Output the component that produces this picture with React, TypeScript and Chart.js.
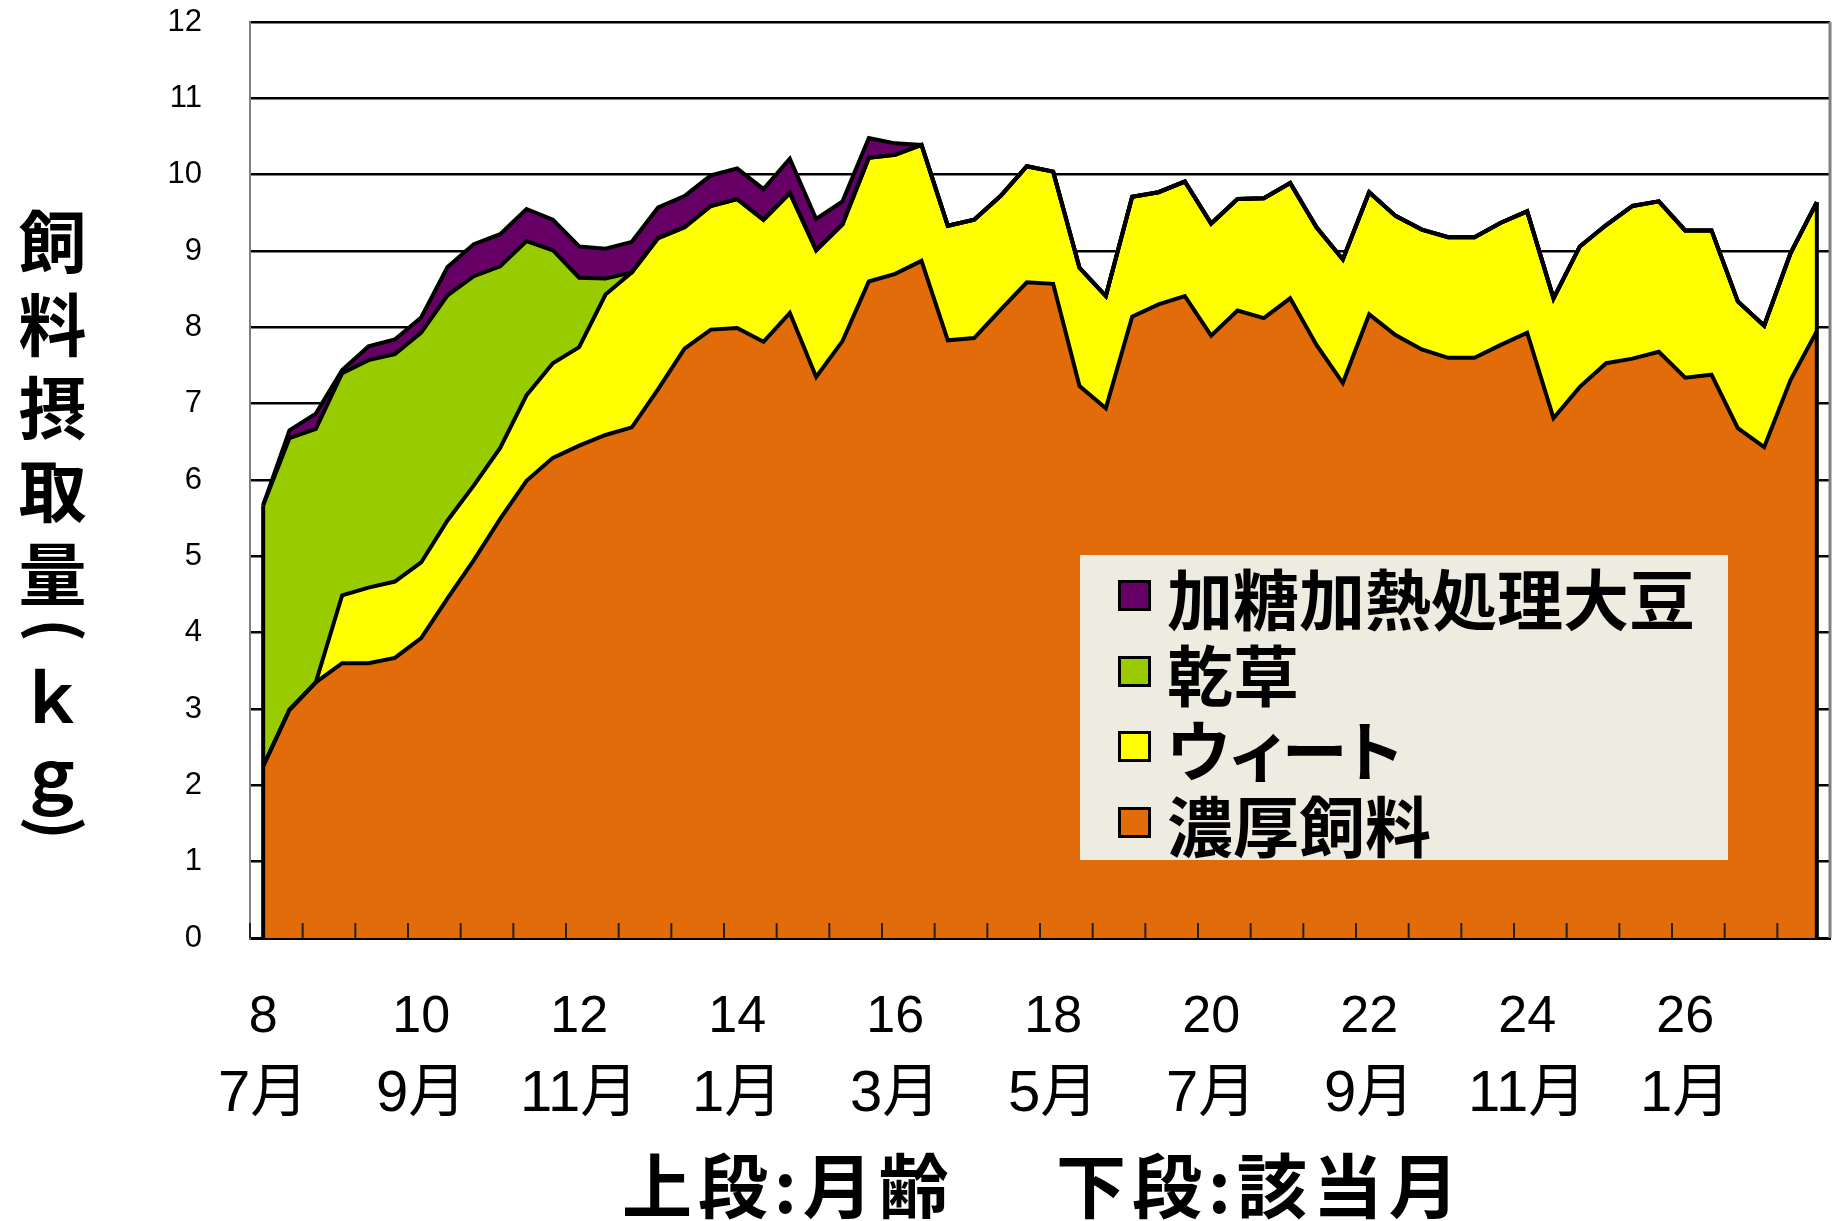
import React, { useEffect, useRef } from "react";
import { Chart, registerables } from "chart.js";

Chart.register(...registerables);

// ---- data (kg per 10-day period) ----
const ageLabels = ["8", "10", "12", "14", "16", "18", "20", "22", "24", "26"];
const monthLabels = ["7月", "9月", "11月", "1月", "3月", "5月", "7月", "9月", "11月", "1月"];
const PERIODS_PER_LABEL = 6;

const concentrate = [
  2.25, 2.99, 3.35, 3.6, 3.6, 3.67, 3.93, 4.45, 4.95, 5.49,
  5.99, 6.29, 6.45, 6.59, 6.69, 7.19, 7.72, 7.97, 7.99, 7.81,
  8.19, 7.35, 7.82, 8.6, 8.7, 8.87, 7.83, 7.86, 8.23, 8.59,
  8.57, 7.23, 6.94, 8.14, 8.3, 8.41, 7.89, 8.22, 8.12, 8.38,
  7.77, 7.27, 8.17, 7.9, 7.71, 7.6, 7.6, 7.77, 7.93, 6.81,
  7.22, 7.53, 7.59, 7.68, 7.34, 7.38, 6.68, 6.43, 7.31, 7.95,
];
const wheat = [
  0, 0, 0, 0.89, 0.99, 1.0, 0.99, 1.02, 0.98, 0.93,
  1.12, 1.24, 1.29, 1.84, 2.03, 1.98, 1.59, 1.62, 1.69, 1.6,
  1.57, 1.66, 1.53, 1.62, 1.56, 1.52, 1.5, 1.55, 1.49, 1.52,
  1.47, 1.55, 1.47, 1.57, 1.47, 1.5, 1.47, 1.46, 1.57, 1.51,
  1.54, 1.62, 1.6, 1.56, 1.57, 1.58, 1.58, 1.6, 1.59, 1.57,
  1.84, 1.81, 2.0, 1.97, 1.93, 1.89, 1.66, 1.59, 1.66, 1.69,
];
const hay = [
  3.42, 3.56, 3.32, 2.91, 2.98, 2.98, 3.01, 2.95, 2.74, 2.38,
  2.02, 1.48, 0.91, 0.21, 0, 0, 0, 0, 0, 0,
  0, 0, 0, 0, 0, 0, 0, 0, 0, 0,
  0, 0, 0, 0, 0, 0, 0, 0, 0, 0,
  0, 0, 0, 0, 0, 0, 0, 0, 0, 0,
  0, 0, 0, 0, 0, 0, 0, 0, 0, 0,
];
const soybean = [
  0, 0.1, 0.2, 0.04, 0.18, 0.19, 0.2, 0.37, 0.42, 0.42,
  0.42, 0.4, 0.41, 0.39, 0.4, 0.4, 0.41, 0.4, 0.4, 0.4,
  0.45, 0.41, 0.3, 0.26, 0.15, 0, 0, 0, 0, 0,
  0, 0, 0, 0, 0, 0, 0, 0, 0, 0,
  0, 0, 0, 0, 0, 0, 0, 0, 0, 0,
  0, 0, 0, 0, 0, 0, 0, 0, 0, 0,
];

const seriesNames = ["濃厚飼料", "ウィート", "乾草", "加糖加熱処理大豆"];
const seriesColors = ["#E36C0A", "#FFFF00", "#99CC00", "#660066"];
const seriesValues = [concentrate, wheat, hay, soybean];

const yTitleMain = "飼料摂取量";
const yTitleUnit = ["(", "ｋ", "ｇ", ")"];
const xTitleLeft = "上段:月齢";
const xTitleRight = "下段:該当月";

const periods = concentrate.map((_, i) => String(i));

const JP = "'Noto Sans CJK JP', sans-serif";
const LATIN = "'Liberation Sans', 'Noto Sans CJK JP', sans-serif";

const framePlugin = {
  id: "frameAndEdges",
  afterDatasetsDraw(chart: any) {
    const { ctx, chartArea, scales } = chart;
    const xs = scales.x;
    const ys = scales.y;
    const n = chart.data.labels.length;
    const topMeta = chart.getDatasetMeta(chart.data.datasets.length - 1);
    const first = topMeta.data[0];
    const last = topMeta.data[n - 1];
    const y0 = ys.getPixelForValue(0);
    ctx.save();
    ctx.strokeStyle = "#000";
    ctx.lineWidth = 4;
    ctx.beginPath();
    ctx.moveTo(first.x, y0);
    ctx.lineTo(first.x, first.y);
    ctx.moveTo(last.x, y0);
    ctx.lineTo(last.x, last.y);
    ctx.stroke();
    // inward tick marks every 2 categories
    const catW = (xs.right - xs.left) / n;
    ctx.lineWidth = 2;
    ctx.strokeStyle = "#222";
    ctx.beginPath();
    for (let k = 0; k <= n; k += 2) {
      const px = xs.left + k * catW;
      ctx.moveTo(px, y0);
      ctx.lineTo(px, y0 - 15);
    }
    ctx.stroke();
    // right frame
    ctx.strokeStyle = "#808080";
    ctx.lineWidth = 3;
    ctx.beginPath();
    ctx.moveTo(chartArea.right, chartArea.top);
    ctx.lineTo(chartArea.right, chartArea.bottom);
    ctx.stroke();
    ctx.restore();
  },
};

const zeroPad = (s: any) => {
  s.paddingTop = 0;
  s.paddingBottom = 0;
  s.paddingLeft = 0;
  s.paddingRight = 0;
};

export default function App() {
  const canvasRef = useRef<HTMLCanvasElement | null>(null);

  useEffect(() => {
    const canvas = canvasRef.current;
    if (!canvas) return;
    const chart = new Chart(canvas, {
      type: "line",
      data: {
        labels: periods,
        datasets: seriesValues.map((vals, i) => ({
          label: seriesNames[i],
          data: vals,
          backgroundColor: seriesColors[i],
          borderColor: "#000",
          borderWidth: 4,
          pointRadius: 0,
          tension: 0,
          fill: i === 0 ? "origin" : "-1",
          xAxisID: "x",
          yAxisID: "y",
        })),
      },
      options: {
        animation: false,
        responsive: false,
        devicePixelRatio: 1,
        layout: { padding: { top: 22, right: 9, left: 0, bottom: 0 } },
        plugins: {
          legend: { display: false },
          tooltip: { enabled: false },
          filler: { drawTime: "beforeDatasetsDraw" },
        },
        scales: {
          x: {
            type: "category",
            position: "bottom",
            weight: 0,
            offset: true,
            grid: { display: false },
            border: { display: true, color: "#000", width: 3 },
            ticks: {
              autoSkip: false,
              maxRotation: 0,
              minRotation: 0,
              padding: 40,
              color: "#000",
              font: { family: LATIN, size: 52, lineHeight: 1.2 },
              callback: (_v: any, idx: number) =>
                idx % PERIODS_PER_LABEL === 0 ? ageLabels[idx / PERIODS_PER_LABEL] : "",
            },
            afterFit: (s: any) => {
              s.height = 114;
              zeroPad(s);
            },
          },
          x2: {
            type: "category",
            position: "bottom",
            weight: 1,
            offset: true,
            grid: { display: false },
            border: { display: false },
            ticks: {
              autoSkip: false,
              maxRotation: 0,
              minRotation: 0,
              padding: 0,
              color: "#000",
              font: { family: LATIN, size: 58, lineHeight: 1.2 },
              callback: (_v: any, idx: number) =>
                idx % PERIODS_PER_LABEL === 0 ? monthLabels[idx / PERIODS_PER_LABEL] : "",
            },
            afterFit: (s: any) => {
              s.height = 169;
              zeroPad(s);
            },
          },
          y: {
            stacked: true,
            min: 0,
            max: 12,
            ticks: {
              stepSize: 1,
              padding: 48,
              color: "#000",
              font: { family: LATIN, size: 31 },
            },
            grid: { color: "#000", lineWidth: 2.5, drawTicks: false },
            border: { display: true, color: "#808080", width: 2 },
            afterFit: (s: any) => {
              s.width = 250;
              zeroPad(s);
            },
          },
        },
      },
      plugins: [framePlugin],
    } as any);
    return () => chart.destroy();
  }, []);

  const legendOrder = [3, 2, 1, 0];
  const xTitleStyle: React.CSSProperties = {
    position: "absolute",
    top: 1143,
    height: 80,
    lineHeight: "80px",
    fontFamily: JP,
    fontWeight: 700,
    fontSize: 70,
    letterSpacing: "6px",
    color: "#000",
    whiteSpace: "nowrap",
  };
  const unitCenters = [630, 694, 771, 828];

  return (
    <div style={{ position: "fixed", left: 0, top: 0, width: 1839, height: 1221, background: "#fff", overflow: "hidden" }}>
      <canvas ref={canvasRef} width={1839} height={1221} style={{ position: "absolute", left: 0, top: 0, width: 1839, height: 1221 }} />
      <div
        style={{
          position: "absolute",
          left: 18,
          top: 208,
          writingMode: "vertical-rl",
          fontFamily: JP,
          fontWeight: 700,
          fontSize: 68,
          lineHeight: 1,
          letterSpacing: "15px",
          color: "#000",
        }}
      >
        {yTitleMain}
      </div>
      {yTitleUnit.map((ch, i) => {
        const isParen = i === 0 || i === yTitleUnit.length - 1;
        return (
          <div
            key={i}
            style={{
              position: "absolute",
              left: 52 - 40 + (isParen ? 8 : 0),
              top: unitCenters[i] - 40,
              width: 80,
              height: 80,
              lineHeight: "80px",
              textAlign: "center",
              fontFamily: JP,
              fontWeight: 700,
              fontSize: isParen ? 62 : 68,
              color: "#000",
              transform: isParen ? "rotate(90deg)" : undefined,
            }}
          >
            {ch}
          </div>
        );
      })}
      <div style={{ ...xTitleStyle, left: 622 }}>{xTitleLeft}</div>
      <div style={{ ...xTitleStyle, left: 1056 }}>{xTitleRight}</div>
      <div
        style={{
          position: "absolute",
          left: 1080,
          top: 555,
          width: 648,
          height: 305,
          background: "#EEECE1",
        }}
      >
        {legendOrder.map((si, r) => (
          <div
            key={si}
            style={{
              position: "absolute",
              left: 0,
              top: 3 + r * 75.7,
              height: 76,
              width: 648,
            }}
          >
            <div
              style={{
                position: "absolute",
                left: 38,
                top: 22,
                width: 27,
                height: 25,
                border: "3px solid #000",
                background: seriesColors[si],
              }}
            />
            <div
              style={{
                position: "absolute",
                left: 87,
                top: 0,
                height: 76,
                lineHeight: "76px",
                fontFamily: JP,
                fontWeight: 700,
                fontSize: 66,
                fontFeatureSettings: '"palt"',
                color: "#000",
                whiteSpace: "nowrap",
              }}
            >
              {seriesNames[si]}
            </div>
          </div>
        ))}
      </div>
    </div>
  );
}
